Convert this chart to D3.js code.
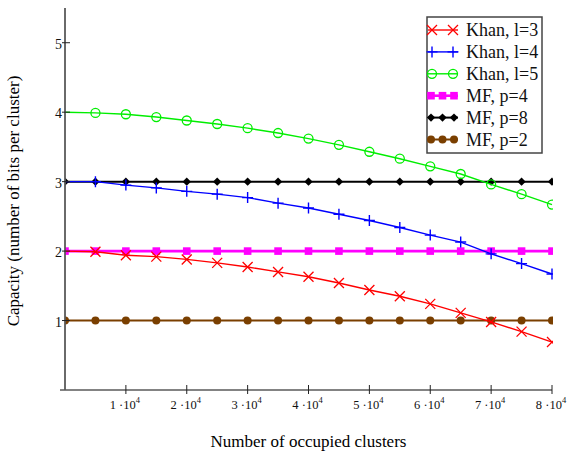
<!DOCTYPE html>
<html>
<head>
<meta charset="utf-8">
<script src="https://cdn.jsdelivr.net/npm/d3@7"></script>
<style>
  body { margin: 0; background: #fff; }
  svg { display: block; font-family: "Liberation Serif", "Times New Roman", serif; }
</style>
</head>
<body>
<div id="chart"></div>
<script>
// occupied clusters (x values of every sample)
const clusters = [0, 5000, 10000, 15000, 20000, 25000, 30000, 35000, 40000,
                  45000, 50000, 55000, 60000, 65000, 70000, 75000, 80000];

const khanL3 = [2.00, 1.99, 1.94, 1.92, 1.88, 1.83, 1.77, 1.70, 1.63,
                1.54, 1.44, 1.35, 1.24, 1.11, 0.98, 0.84, 0.69];
const khanL4 = [3.00, 3.00, 2.95, 2.91, 2.86, 2.82, 2.77, 2.69, 2.62,
                2.53, 2.44, 2.34, 2.23, 2.13, 1.96, 1.82, 1.67];
const khanL5 = [4.00, 3.99, 3.97, 3.93, 3.88, 3.83, 3.77, 3.70, 3.62,
                3.53, 3.43, 3.33, 3.22, 3.11, 2.96, 2.82, 2.67];
const mfP4 = [2, 2, 2, 2, 2, 2, 2, 2, 2, 2, 2, 2, 2, 2, 2, 2, 2];
const mfP8 = [3, 3, 3, 3, 3, 3, 3, 3, 3, 3, 3, 3, 3, 3, 3, 3, 3];
const mfP2 = [1, 1, 1, 1, 1, 1, 1, 1, 1, 1, 1, 1, 1, 1, 1, 1, 1];

const xTicks = [10000, 20000, 30000, 40000, 50000, 60000, 70000, 80000];
const xTickMantissa = ["1", "2", "3", "4", "5", "6", "7", "8"];
const yTicks = [1, 2, 3, 4, 5];

const series = [
  { name: "Khan, l=3", values: khanL3, color: "#ff0000", marker: "x", width: 1.4, khan: true },
  { name: "Khan, l=4", values: khanL4, color: "#0000ff", marker: "plus", width: 1.4, khan: true },
  { name: "Khan, l=5", values: khanL5, color: "#00ee00", marker: "circle", width: 1.4, khan: true },
  { name: "MF, p=4", values: mfP4, color: "#ff00ff", marker: "square", width: 2.6, khan: false },
  { name: "MF, p=8", values: mfP8, color: "#000000", marker: "diamond", width: 2, khan: false },
  { name: "MF, p=2", values: mfP2, color: "#7a3f00", marker: "dot", width: 2, khan: false }
];

const W = 567, H = 454;
const margin = { top: 8, right: 15, bottom: 64, left: 65 };

const x = d3.scaleLinear().domain([0, 80000]).range([margin.left, W - margin.right]);
const y = d3.scaleLinear().domain([0, 5.5]).range([H - margin.bottom, margin.top]);

const svg = d3.select("#chart").append("svg")
  .attr("width", W).attr("height", H);

svg.append("clipPath").attr("id", "plot-clip")
  .append("rect")
  .attr("x", x(0)).attr("y", y(5.5) - 6)
  .attr("width", x(80000) - x(0) + 1)
  .attr("height", y(0) - y(5.5) + 6);

function drawMarker(g, type, color, cx, cy) {
  if (type === "x") {
    const s = 5;
    g.append("path")
      .attr("d", `M${cx - s},${cy - s}L${cx + s},${cy + s}M${cx - s},${cy + s}L${cx + s},${cy - s}`)
      .attr("stroke", color).attr("stroke-width", 1.3).attr("fill", "none");
  } else if (type === "plus") {
    const s = 5.5;
    g.append("path")
      .attr("d", `M${cx - s},${cy}L${cx + s},${cy}M${cx},${cy - s}L${cx},${cy + s}`)
      .attr("stroke", color).attr("stroke-width", 1.4).attr("fill", "none");
  } else if (type === "circle") {
    g.append("circle").attr("cx", cx).attr("cy", cy).attr("r", 4.5)
      .attr("stroke", color).attr("stroke-width", 1.3).attr("fill", "none");
  } else if (type === "square") {
    g.append("rect").attr("x", cx - 3.8).attr("y", cy - 3.8)
      .attr("width", 7.6).attr("height", 7.6).attr("fill", color);
  } else if (type === "diamond") {
    const s = 4.2;
    g.append("path")
      .attr("d", `M${cx},${cy - s}L${cx + s},${cy}L${cx},${cy + s}L${cx - s},${cy}Z`)
      .attr("fill", color);
  } else if (type === "dot") {
    g.append("circle").attr("cx", cx).attr("cy", cy).attr("r", 4).attr("fill", color);
  }
}

const line = d3.line()
  .x((d, i) => x(clusters[i]))
  .y(d => y(d));

const plot = svg.append("g").attr("clip-path", "url(#plot-clip)");

// MF lines first, Khan curves on top
const drawOrder = series.slice(3).concat(series.slice(0, 3));
drawOrder.forEach(s => {
  plot.append("path")
    .datum(s.values)
    .attr("fill", "none")
    .attr("stroke", s.color)
    .attr("stroke-width", s.width)
    .attr("d", line);
  const mg = plot.append("g");
  s.values.forEach((v, i) => {
    if (s.khan && i === 0) return;
    drawMarker(mg, s.marker, s.color, x(clusters[i]), y(v));
  });
});

// axes
const axisColor = "#5a5a5a";
const axes = svg.append("g");
axes.append("line")
  .attr("x1", x(0)).attr("x2", x(0))
  .attr("y1", y(5.5)).attr("y2", y(0))
  .attr("stroke", axisColor).attr("stroke-width", 1.8);
axes.append("line")
  .attr("x1", x(0) - 5).attr("x2", x(80000))
  .attr("y1", y(0)).attr("y2", y(0))
  .attr("stroke", axisColor).attr("stroke-width", 1.5);

axes.selectAll(".xtick")
  .data(xTicks)
  .join("line")
  .attr("x1", d => x(d)).attr("x2", d => x(d))
  .attr("y1", y(0) - 5).attr("y2", y(0) + 4)
  .attr("stroke", "#222").attr("stroke-width", 1);

axes.selectAll(".ytick")
  .data(yTicks)
  .join("line")
  .attr("x1", x(0) - 3).attr("x2", x(0) + 5)
  .attr("y1", d => y(d)).attr("y2", d => y(d))
  .attr("stroke", "#222").attr("stroke-width", 1);

const xLabels = axes.selectAll(".xlabel")
  .data(xTicks)
  .join("text")
  .attr("x", d => x(d) - 1)
  .attr("y", y(0) + 19)
  .attr("text-anchor", "middle")
  .style("font-size", "12.5px")
  .attr("fill", "#111");
xLabels.append("tspan").text((d, i) => xTickMantissa[i] + " \u00b710");
xLabels.append("tspan").attr("dy", -6).style("font-size", "8.5px").text("4");

axes.selectAll(".ylabel")
  .data(yTicks)
  .join("text")
  .attr("x", x(0) - 3)
  .attr("y", d => y(d))
  .attr("dy", "0.45em")
  .attr("text-anchor", "end")
  .style("font-size", "14px")
  .attr("fill", "#111")
  .text(d => d);

svg.append("text")
  .attr("x", (x(0) + x(80000)) / 2)
  .attr("y", 447)
  .attr("text-anchor", "middle")
  .style("font-size", "17px")
  .text("Number of occupied clusters");

svg.append("text")
  .attr("transform", `translate(19,${(y(0) + y(5.5)) / 2 + 2}) rotate(-90)`)
  .attr("text-anchor", "middle")
  .style("font-size", "17px")
  .text("Capacity (number of bits per cluster)");

// legend
const legend = svg.append("g").attr("transform", "translate(427,17)");
legend.append("rect")
  .attr("x", 0).attr("y", 0)
  .attr("width", 115).attr("height", 136)
  .attr("fill", "#fff")
  .attr("stroke", "#444").attr("stroke-width", 1.5);

series.forEach((s, i) => {
  const cy = 13 + i * 21.9;
  const row = legend.append("g");
  row.append("line")
    .attr("x1", 1).attr("x2", 31)
    .attr("y1", cy).attr("y2", cy)
    .attr("stroke", s.color).attr("stroke-width", s.width);
  const pts = s.khan ? [5, 26] : [4, 15.5, 27];
  pts.forEach(px => drawMarker(row, s.marker, s.color, px, cy));
  row.append("text")
    .attr("x", 39).attr("y", cy + 6)
    .style("font-size", "18px")
    .attr("fill", "#111")
    .text(s.name);
});
</script>
</body>
</html>
